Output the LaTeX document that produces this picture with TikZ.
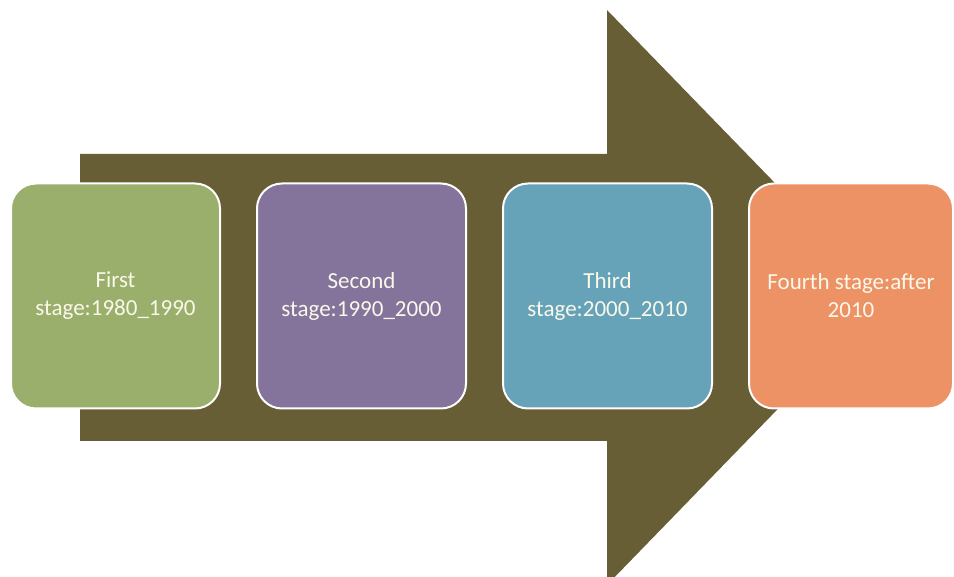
\documentclass[tikz,border=0pt]{standalone}
\usepackage{fontspec}
\setmainfont{Carlito}
\usetikzlibrary{positioning}

\definecolor{arrowbrown}{RGB}{103,94,54}
\definecolor{stagegreen}{RGB}{155,175,108}
\definecolor{stagepurple}{RGB}{132,116,155}
\definecolor{stageblue}{RGB}{102,163,185}
\definecolor{stageorange}{RGB}{237,146,101}
\definecolor{stagetext}{RGB}{250,248,235}

\begin{document}
\begin{tikzpicture}[x=1pt,y=-1pt,
    stagebox/.style={rounded corners=25pt, draw=white, line width=2pt,
        minimum width=209pt, minimum height=225pt, inner sep=0pt,
        align=center, text=stagetext, font=\fontsize{23}{28}\selectfont}]
    \useasboundingbox (0,0) rectangle (954,577);
    \clip (0,0) rectangle (954,577);

    % Big arrow behind the stages
    \fill[arrowbrown] (80,154) -- (607,154) -- (607,10) -- (886,297.5)
        -- (607,585) -- (607,441) -- (80,441) -- cycle;

    % Stages
    \node[stagebox, fill=stagegreen] (first) at (115.5,296) {First\\stage:1980\_1990};
    \node[stagebox, fill=stagepurple, right=35pt of first] (second) {Second\\stage:1990\_2000};
    \node[stagebox, fill=stageblue, right=35pt of second] (third) {Third\\stage:2000\_2010};
    \node[stagebox, fill=stageorange, minimum width=204pt,
        right=35pt of third] (fourth) {Fourth stage:after\\2010};
\end{tikzpicture}
\end{document}
